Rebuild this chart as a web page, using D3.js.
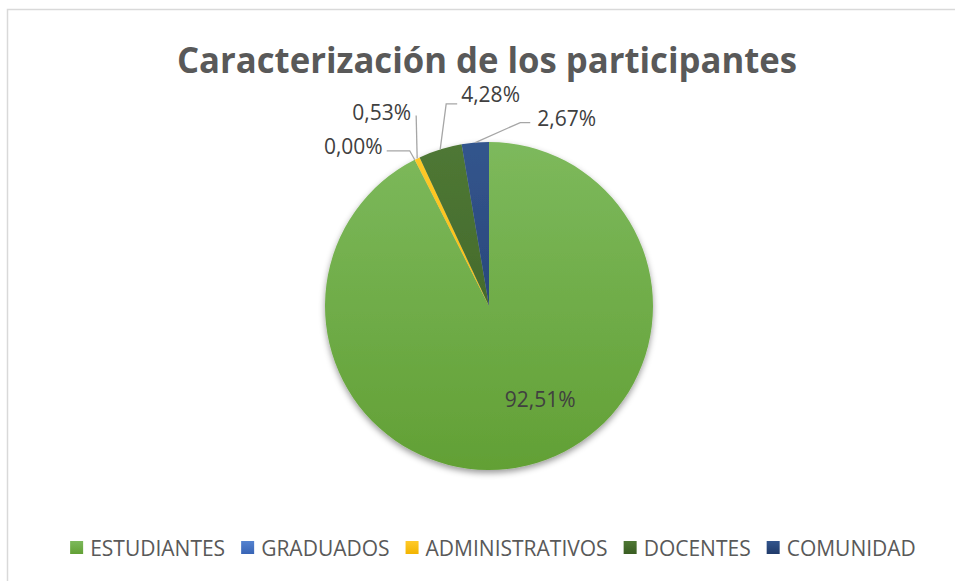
<!DOCTYPE html>
<html>
<head>
<meta charset="utf-8">
<script src="https://cdn.jsdelivr.net/npm/d3@7"></script>
<style>
  body { margin: 0; background: #fff; }
  svg { display: block; }
  text { font-family: "Open Sans", sans-serif; }
</style>
</head>
<body>
<svg id="chart" width="955" height="581"></svg>
<script>
const svg = d3.select("svg");
const width = +svg.attr("width");
const height = +svg.attr("height");

// data
const categories = ["ESTUDIANTES", "GRADUADOS", "ADMINISTRATIVOS", "DOCENTES", "COMUNIDAD"];
const values = [92.51, 0.0, 0.53, 4.28, 2.67];
const labels = ["92,51%", "0,00%", "0,53%", "4,28%", "2,67%"];
const colourTops = ["#7db95c", "#5583d0", "#ffca2a", "#4f7835", "#33558d"];
const colourBottoms = ["#62a035", "#3864b5", "#f2b400", "#3a5d22", "#203b6a"];

const cx = 489, cy = 306, r = 164;

// label placement (relative to the arc point at the slice's mid angle)
const labelLayout = [
  { inside: true, radius: 0.58, dx: 29, dy: 0 },
  { elbow: [-5, -9], end: [-28, -9], text: [-32, -14], anchor: "end" },
  { elbow: [-1, -43], end: [-1, -43], text: [-6, -47], anchor: "end" },
  { elbow: [6, -45.5], end: [17, -45.5], text: [21, -55], anchor: "start" },
  { elbow: [45, -20], end: [55, -20], text: [62, -24.5], anchor: "start" }
];

const defs = svg.append("defs");
const shadow = defs.append("filter").attr("id", "shadow")
  .attr("x", "-20%").attr("y", "-20%").attr("width", "140%").attr("height", "140%");
shadow.append("feDropShadow")
  .attr("dx", 0).attr("dy", 3).attr("stdDeviation", 3)
  .attr("flood-color", "#000").attr("flood-opacity", 0.4);

categories.forEach((c, i) => {
  // pie slices live in a group centred on the pie, so gradient runs -r..r
  const g = defs.append("linearGradient").attr("id", "grad" + i)
    .attr("gradientUnits", "userSpaceOnUse")
    .attr("x1", 0).attr("y1", -r).attr("x2", 0).attr("y2", r);
  g.append("stop").attr("offset", 0).attr("stop-color", colourTops[i]);
  g.append("stop").attr("offset", 1).attr("stop-color", colourBottoms[i]);
  const lg = defs.append("linearGradient").attr("id", "lgrad" + i)
    .attr("x1", 0).attr("y1", 0).attr("x2", 0).attr("y2", 1);
  lg.append("stop").attr("offset", 0).attr("stop-color", colourTops[i]);
  lg.append("stop").attr("offset", 1).attr("stop-color", colourBottoms[i]);
});

// frame
svg.append("rect")
  .attr("x", 7.5).attr("y", 9.5)
  .attr("width", width + 20).attr("height", height + 20)
  .attr("fill", "#fff").attr("stroke", "#d9d9d9").attr("stroke-width", 1.5);

// title
const title = svg.append("text")
  .attr("x", 487).attr("y", 72.5)
  .attr("text-anchor", "middle")
  .attr("fill", "#595959")
  .style("font-size", "35px")
  .style("font-weight", "bold")
  .text("Caracterización de los participantes");
const tw = title.node().getComputedTextLength();
if (tw > 620) title.attr("textLength", 620).attr("lengthAdjust", "spacingAndGlyphs");

// pie
const pie = d3.pie().sort(null).value(d => d)(values);
const arc = d3.arc().innerRadius(0).outerRadius(r);

const pieG = svg.append("g").attr("transform", `translate(${cx},${cy})`);
pieG.append("g").attr("filter", "url(#shadow)")
  .selectAll("path")
  .data(pie)
  .join("path")
  .attr("d", arc)
  .attr("fill", (d, i) => `url(#grad${i})`);

// labels
const labelG = svg.append("g");
pie.forEach((d, i) => {
  const mid = (d.startAngle + d.endAngle) / 2;
  const L = labelLayout[i];
  if (L.inside) {
    const ix = cx + r * L.radius * Math.sin(mid);
    const iy = cy - r * L.radius * Math.cos(mid);
    labelG.append("text")
      .attr("x", ix + L.dx).attr("y", iy + L.dy)
      .attr("text-anchor", "middle")
      .attr("dominant-baseline", "central")
      .attr("fill", "#404040")
      .style("font-size", "21px")
      .text(labels[i]);
    return;
  }
  // point on the pie edge at the slice's mid angle
  const px = cx + r * Math.sin(mid);
  const py = cy - r * Math.cos(mid);
  labelG.append("polyline")
    .attr("points", [
      [px + L.end[0], py + L.end[1]],
      [px + L.elbow[0], py + L.elbow[1]],
      [px, py]
    ].map(p => p.join(",")).join(" "))
    .attr("fill", "none")
    .attr("stroke", "#a6a6a6")
    .attr("stroke-width", 1.3);
  labelG.append("text")
    .attr("x", px + L.text[0]).attr("y", py + L.text[1])
    .attr("text-anchor", L.anchor)
    .attr("dominant-baseline", "central")
    .attr("fill", "#404040")
    .style("font-size", "21px")
    .text(labels[i]);
});

// legend
const legend = svg.append("g");
const items = legend.selectAll("g").data(categories).join("g");
items.append("rect")
  .attr("width", 13).attr("height", 13)
  .attr("y", -15)
  .attr("fill", (d, i) => `url(#lgrad${i})`);
items.append("text")
  .attr("x", 20).attr("y", 0)
  .attr("fill", "#595959")
  .style("font-size", "21px")
  .text(d => d);
let lx = 0;
const offsets = [];
items.each(function () {
  offsets.push(lx);
  const w = d3.select(this).select("text").node().getComputedTextLength();
  lx += 20 + w + 16;
});
const total = lx - 16;
const startX = 493 - total / 2;
items.attr("transform", (d, i) => `translate(${startX + offsets[i]},556)`);
</script>
</body>
</html>
